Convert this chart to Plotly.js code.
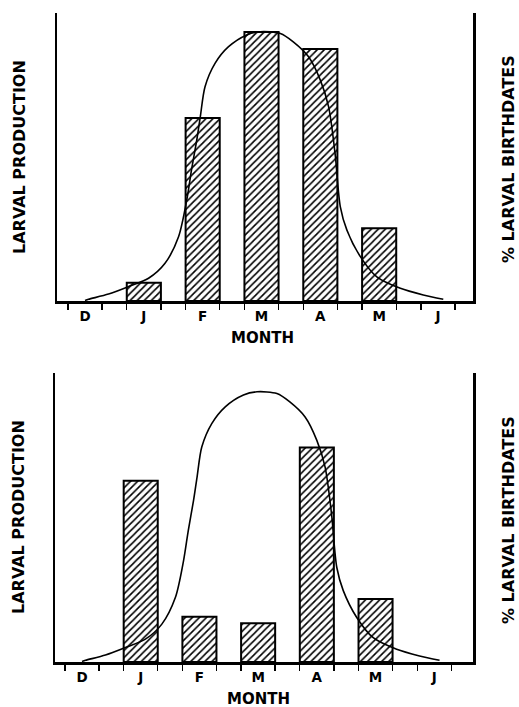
<!DOCTYPE html>
<html>
<head>
<meta charset="utf-8">
<script src="https://cdn.plot.ly/plotly-3.0.1.min.js"></script>
<style>html,body{margin:0;padding:0;background:#fff;}</style>
</head>
<body>
<div id="chart" style="width:519px;height:707px;"></div>
<script>
// Month tick labels (index 0..6)
const monthLabels = ['D', 'J', 'F', 'M', 'A', 'M', 'J'];
const monthIdx = [0, 1, 2, 3, 4, 5, 6];

// Bars occur for months J, F, M, A, M (indices 1..5)
const barMonths = [1, 2, 3, 4, 5];
const productionTop = [6.3, 63.5, 93.4, 87.5, 25.3];
const productionBottom = [62.7, 15.7, 13.4, 74.2, 21.8];

// Larval birthdate curve (% larval birthdates), same in both panels
const curveX = [0.0, 0.06, 0.40, 0.74, 1.08, 1.36, 1.59, 1.73, 1.81, 1.90, 1.96, 2.04, 2.21, 2.44, 2.75, 2.98, 3.32, 3.54, 3.80, 4.00, 4.14, 4.25, 4.34, 4.45, 4.68, 4.96, 5.36, 5.75, 6.09];
const curveY = [0.2, 0.6, 2.4, 5.0, 7.9, 13.1, 22.3, 35.1, 45.5, 55.9, 64.0, 74.4, 82.5, 88.3, 92.4, 93.5, 92.9, 90.0, 84.8, 76.7, 67.5, 51.3, 32.7, 24.7, 15.4, 8.4, 4.4, 2.1, 0.6];

const halfBar = 0.29;
const edgeTicks = [];
monthIdx.forEach(m => { edgeTicks.push(m - halfBar, m + halfBar); });

const FONT = 'DejaVu Sans';

function barTrace(vals, xa, ya) {
  return {
    type: 'bar', x: barMonths, y: vals, xaxis: xa, yaxis: ya,
    width: 2 * halfBar,
    marker: {
      color: 'white',
      line: {color: 'black', width: 2},
      pattern: {shape: '/', fgcolor: 'black', bgcolor: 'white', size: 5, solidity: 0.32}
    },
    hoverinfo: 'skip', showlegend: false
  };
}
function curveTrace(xa, ya) {
  return {
    type: 'scatter', mode: 'lines', x: curveX, y: curveY, xaxis: xa, yaxis: ya,
    line: {color: 'black', width: 1.6, shape: 'spline', smoothing: 0.8},
    hoverinfo: 'skip', showlegend: false
  };
}
function xAxis(domain, range, anchor) {
  return {
    domain: domain, range: range, anchor: anchor,
    showline: true, linecolor: 'black', linewidth: 2.5,
    showgrid: false, zeroline: false,
    tickmode: 'array', tickvals: monthIdx, ticktext: monthLabels.map(s => '<b>' + s + '</b>'),
    ticks: 'outside', ticklen: 1, tickcolor: 'rgba(0,0,0,0)',
    tickfont: {family: FONT, size: 13.5, color: 'black'},
    minor: {tickmode: 'array', tickvals: edgeTicks, ticks: 'outside', ticklen: 6, tickwidth: 1.3, tickcolor: 'black', showgrid: false}
  };
}
function yAxis(domain, anchor) {
  return {
    domain: domain, range: [0, 100], anchor: anchor,
    showline: true, mirror: true, linecolor: 'black', linewidth: 2.5,
    showgrid: false, zeroline: false, showticklabels: false, ticks: ''
  };
}

const W = 519, H = 707;
const data = [
  barTrace(productionTop, 'x', 'y'), curveTrace('x', 'y'),
  barTrace(productionBottom, 'x2', 'y2'), curveTrace('x2', 'y2')
];

const titleFont = {family: FONT, size: 15, color: 'black', weight: 'bold'};
const axTitleFont = {family: FONT, size: 16, color: 'black', weight: 'bold'};

const layout = {
  width: W, height: H,
  margin: {l: 0, r: 0, t: 0, b: 0},
  paper_bgcolor: 'white', plot_bgcolor: 'white',
  showlegend: false,
  bargap: 0,
  xaxis: xAxis([57 / W, 473 / W], [-0.476, 6.595], 'y'),
  yaxis: yAxis([1 - 301 / H, 1 - 13 / H], 'x'),
  xaxis2: xAxis([55 / W, 473 / W], [-0.46, 6.66], 'y2'),
  yaxis2: yAxis([1 - 662 / H, 1 - 373 / H], 'x2'),
  annotations: [
    {text: 'MONTH', xref: 'paper', yref: 'paper', x: 262 / W, y: 1 - 338 / H, showarrow: false, xanchor: 'center', yanchor: 'middle', font: titleFont},
    {text: 'MONTH', xref: 'paper', yref: 'paper', x: 258 / W, y: 1 - 699 / H, showarrow: false, xanchor: 'center', yanchor: 'middle', font: titleFont},
    {text: 'LARVAL PRODUCTION', xref: 'paper', yref: 'paper', x: 19 / W, y: 1 - 157 / H, textangle: -90, showarrow: false, xanchor: 'center', yanchor: 'middle', font: axTitleFont},
    {text: 'LARVAL PRODUCTION', xref: 'paper', yref: 'paper', x: 18 / W, y: 1 - 517 / H, textangle: -90, showarrow: false, xanchor: 'center', yanchor: 'middle', font: axTitleFont},
    {text: '% LARVAL BIRTHDATES', xref: 'paper', yref: 'paper', x: 508 / W, y: 1 - 159 / H, textangle: -90, showarrow: false, xanchor: 'center', yanchor: 'middle', font: axTitleFont},
    {text: '% LARVAL BIRTHDATES', xref: 'paper', yref: 'paper', x: 508 / W, y: 1 - 520 / H, textangle: -90, showarrow: false, xanchor: 'center', yanchor: 'middle', font: axTitleFont}
  ]
};

Plotly.newPlot('chart', data, layout, {staticPlot: true, displayModeBar: false});
</script>
</body>
</html>
